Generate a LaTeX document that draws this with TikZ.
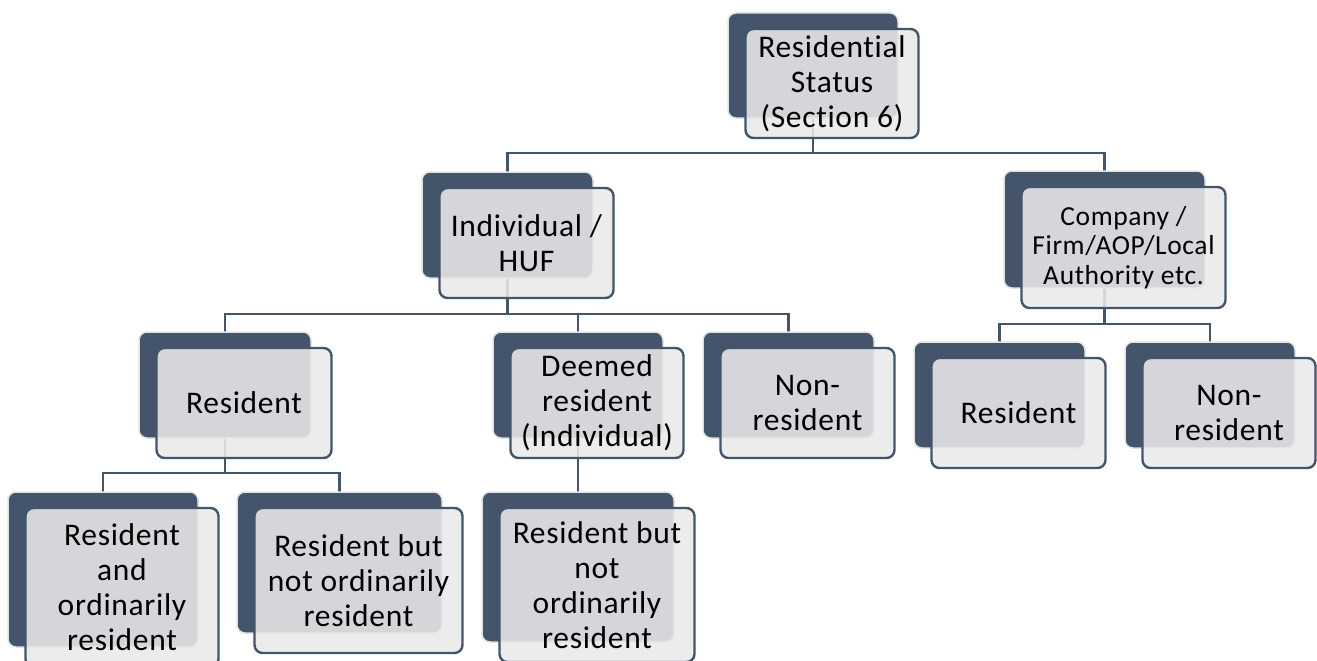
\documentclass[tikz,border=0pt]{standalone}
\usepackage{fontspec}
\setmainfont{Carlito}[Ligatures={NoCommon}, LetterSpace=2.2]
\definecolor{slate}{HTML}{44546A}
\definecolor{paper}{HTML}{E9E9E9}
\definecolor{rim}{HTML}{E2E2E2}
\tikzset{
  backbox/.style={draw=rim, line width=1.5pt, fill=slate, rounded corners=8pt, inner sep=0pt},
  frontbox/.style={draw=slate, line width=2.4pt, fill=paper, fill opacity=0.88, text opacity=1,
    rounded corners=8pt, inner sep=0pt, align=center,
    font=\fontsize{31.5}{35}\selectfont},
  smalltext/.style={font=\fontsize{27.5}{29.5}\selectfont},
  conn/.style={draw=slate, line width=2.7pt},
}
% \pairbox{name}{back centre x}{back centre y}{width}{height}{options}{text}
\newcommand\pairbox[7]{%
  \node[backbox, minimum width=#4pt, minimum height=#5pt] (#1-b) at (#2,#3) {};
  \node[frontbox, minimum width=#4pt+3pt, minimum height=#5pt+4pt, #6] (#1) at ($(#2,#3)+(19,18)$) {#7};
}
\usetikzlibrary{calc}
\begin{document}
\begin{tikzpicture}[x=1pt, y=-1pt]
\useasboundingbox (0,0) rectangle (1317,661);

% bus levels of the tree
\coordinate (bus1) at (0,153);
\coordinate (bus2) at (0,314);
\coordinate (bus3) at (0,324);
\coordinate (bus4) at (0,473);

% connectors, drawn first so the boxes sit over them
\coordinate (rootc) at (813,65.5);
\coordinate (indc) at (507.5,225);
\coordinate (compc) at (1104.5,229.5);
\coordinate (resc) at (225,385);
\coordinate (deemc) at (578,385);

\draw[conn] (rootc) -- (rootc |- bus1) -| (507.5,172);
\draw[conn] (rootc |- bus1) -| (1104.5,171);
\draw[conn] (indc) -- (indc |- bus2) -| (225,332);
\draw[conn] (indc |- bus2) -| (788.5,332);
\draw[conn] (578,314) -- (578,332);
\draw[conn] (compc) -- (compc |- bus3) -| (999.5,342);
\draw[conn] (compc |- bus3) -| (1210,342);
\draw[conn] (resc) -- (resc |- bus4) -| (103,492);
\draw[conn] (resc |- bus4) -| (339.5,492);
\draw[conn] (deemc) -- (578,492);

% boxes
\pairbox{root}{813}{65.5}{170}{105}{}{Residential\\Status\\(Section 6)}
\pairbox{ind}{507.5}{225}{171}{106}{}{Individual /\\HUF}
\pairbox{comp}{1104.5}{229.5}{201}{117}{smalltext}{Company /\\Firm/AOP/Local\\Authority etc.}
\pairbox{res}{225}{385}{172}{106}{}{Resident}
\pairbox{deem}{578}{385}{170}{106}{}{Deemed\\resident\\(Individual)}
\pairbox{non}{788.5}{385}{171}{106}{}{Non-\\resident}
\pairbox{cres}{999.5}{395}{171}{106}{}{Resident}
\pairbox{cnon}{1210}{395}{170}{106}{}{Non-\\resident}
\pairbox{ror}{103}{569.5}{190}{155}{}{Resident\\and\\ordinarily\\resident}
\pairbox{rnor}{339.5}{562.5}{205}{141}{}{Resident but\\not ordinarily\\resident}
\pairbox{dnor}{578}{567}{192}{150}{}{Resident but\\not\\ordinarily\\resident}
\end{tikzpicture}
\end{document}
